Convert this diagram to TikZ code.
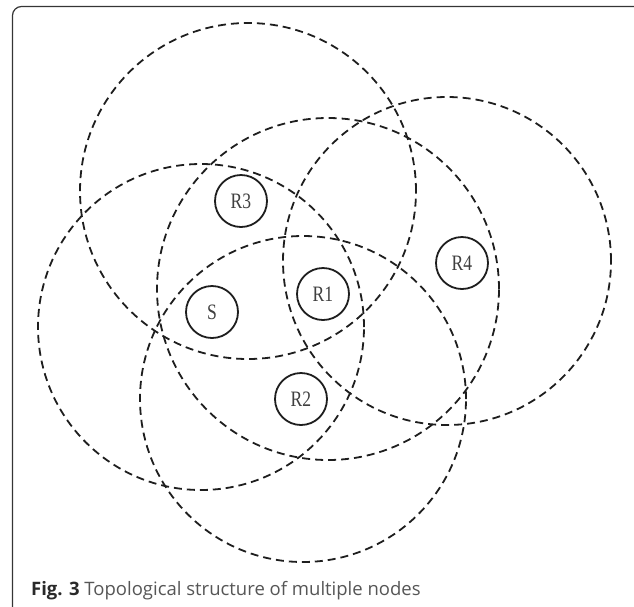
\documentclass[tikz,border=0pt]{standalone}
\usepackage{fontspec}
\newfontfamily\capfont{Open Sans}
\newfontfamily\labfont[FakeStretch=0.8]{Liberation Serif}
\definecolor{ink}{HTML}{1E1E1E}
\tikzset{
  coverage/.style={draw=ink, line width=1.8pt, dash pattern=on 8pt off 5pt},
  station/.style={circle, draw=ink, line width=1.8pt, minimum size=52pt, inner sep=0pt,
    font=\labfont\fontsize{22}{22}\selectfont, text=ink!85},
  frame/.style={draw=ink!90, line width=1.2pt, rounded corners=9pt},
}
\begin{document}
\begin{tikzpicture}[x=1pt,y=-1pt]
\useasboundingbox (0,0) rectangle (634,606);
\clip (0,0) rectangle (634,606);
\draw[frame] (12.5,6.5) rectangle (645,620);
% coverage ranges
\draw[coverage] (248,191) circle[radius=168pt];
\draw[coverage] (328,289) circle[radius=171pt];
\draw[coverage] (201,327) circle[radius=163pt];
\draw[coverage] (447,261) circle[radius=164pt];
\draw[coverage] (303,399) circle[radius=163pt];
% stations
\node[station] (R3) at (241,201) {R3};
\node[station] (R4) at (462,263) {R4};
\node[station] (R1) at (323,294) {R1};
\node[station] (S)  at (212,312) {S};
\node[station] (R2) at (301,399) {R2};
% caption
\node[anchor=base west, inner sep=0pt, font=\capfont\fontsize{18.5}{18.5}\selectfont, text=ink!75] (cap) at (31,595)
  {{\bfseries\color{ink!95}Fig. 3} Topological structure of multiple nodes};
\end{tikzpicture}
\end{document}
